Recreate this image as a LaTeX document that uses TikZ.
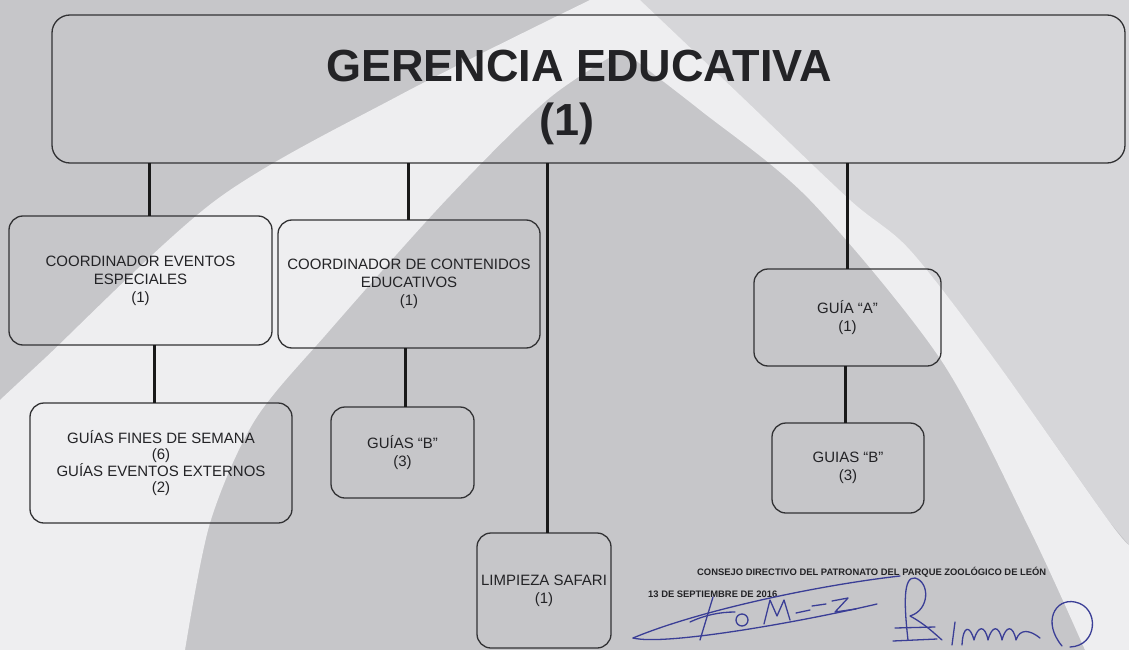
\documentclass[tikz,border=0pt]{standalone}
\usepackage{fontspec}
\setmainfont{Liberation Sans}
\definecolor{bggrey}{RGB}{198,198,201}
\definecolor{bglight}{RGB}{214,214,217}
\definecolor{bgwhite}{RGB}{238,238,240}
\definecolor{boxline}{RGB}{50,50,52}
\definecolor{txt}{RGB}{35,35,38}
\definecolor{sigblue}{RGB}{58,62,150}
\begin{document}
\begin{tikzpicture}[x=1pt,y=-1pt,
  box/.style={draw=boxline, line width=1.3pt, rounded corners=14pt, inner sep=0pt, outer sep=0pt,
              align=center, text=txt, font=\fontsize{15}{18}\selectfont},
  titletext/.style={align=center, text=txt, font=\fontsize{45}{54}\selectfont\bfseries, inner sep=0pt},
  conn/.style={draw=black!90, line width=3pt},
  smalltext/.style={text=txt, font=\fontsize{9.4}{11}\selectfont\bfseries, inner sep=0pt},
  sig/.style={draw=sigblue, line width=1.3pt, line cap=round, line join=round}]
% background paper
\fill[bggrey] (0,0) rectangle (1129,650);
\useasboundingbox (0,0) rectangle (1129,650);
\fill[bglight] (640,0) -- (1129,0) -- (1129,545)
   -- plot[smooth] coordinates {(1108,520) (995,360) (910,250) (850,200) (740,95) (640,0)} -- cycle;
\fill[bgwhite] plot[smooth] coordinates {(590,0) (400,95) (216,200) (43,360) (0,400)}
   -- (0,650) -- (185,650)
   -- plot[smooth] coordinates {(185,650) (210,523) (255,420) (330,330) (446,200) (547,100) (622,50)}
   -- plot[smooth] coordinates {(622,50) (700,110) (810,200) (941,360) (1030,530) (1085,650)}
   -- (1129,650) -- (1129,545)
   -- plot[smooth] coordinates {(1129,545) (1108,520) (995,360) (910,250) (850,200) (740,95) (640,0)}
   -- cycle;

% boxes
\node[box, rounded corners=18pt, minimum width=1073pt, minimum height=148pt] (top) at (588.5,89) {};
\node[titletext] (toptxt) at (579,97) {GERENCIA EDUCATIVA\\(1)\kern24pt};
\node[box, minimum width=263pt, minimum height=129pt] (cee) at (140.5,280.5)
  {COORDINADOR EVENTOS\\ESPECIALES\\(1)};
\node[box, minimum width=262pt, minimum height=128pt] (cce) at (409,284)
  {COORDINADOR DE CONTENIDOS\\EDUCATIVOS\\(1)};
\node[box, minimum width=187pt, minimum height=97pt] (guiaA) at (847.5,317.5)
  {GUÍA “A”\\(1)};
\node[box, font=\fontsize{15}{15.5}\selectfont, minimum width=262pt, minimum height=120pt] (gfs) at (161,463)
  {GUÍAS FINES DE SEMANA\\(6)\\GUÍAS EVENTOS EXTERNOS\\(2)};
\node[box, minimum width=143pt, minimum height=91pt] (gb) at (402.5,452.5)
  {GUÍAS “B”\\(3)};
\node[box, minimum width=152pt, minimum height=90pt] (gb2) at (848,468)
  {GUIAS “B”\\(3)};
\node[box, minimum width=134pt, minimum height=115pt] (limp) at (544,590.5)
  {LIMPIEZA SAFARI\\(1)};

% connectors
\draw[conn] ([xshift=8.5]cee.north |- top.south) -- ([xshift=8.5]cee.north);
\draw[conn] ([xshift=-1]cce.north |- top.south) -- ([xshift=-1]cce.north);
\draw[conn] ([xshift=3]limp.north |- top.south) -- ([xshift=3]limp.north);
\draw[conn] (guiaA.north |- top.south) -- (guiaA.north);
\draw[conn] ([xshift=-7]gfs.north |- cee.south) -- ([xshift=-7]gfs.north);
\draw[conn] ([xshift=2.5]gb.north |- cce.south) -- ([xshift=2.5]gb.north);
\draw[conn] ([xshift=-2.5]gb2.north |- guiaA.south) -- ([xshift=-2.5]gb2.north);

% footer texts
\node[smalltext, anchor=base west] (consejo) at (697,575)
  {CONSEJO DIRECTIVO DEL PATRONATO DEL PARQUE ZOOLÓGICO DE LEÓN};
\node[smalltext, anchor=base west] (fecha) at (648,597)
  {13 DE SEPTIEMBRE DE 2016};

% signatures
\draw[sig] (633,638) .. controls (700,610) and (820,585) .. (900,576);
\draw[sig] (633,638) .. controls (665,646) and (800,622) .. (877,604);
\draw[sig] (700,640) -- (713,597);
\draw[sig] (690,622) .. controls (705,615) and (720,612) .. (735,612);
\draw[sig] (742,620) circle[radius=6];
\draw[sig] (764,624) -- (770,600) -- (777,616) -- (784,600) -- (790,620);
\draw[sig] (796,613) -- (810,610);
\draw[sig] (812,606) -- (826,604);
\draw[sig] (832,601) -- (848,598) -- (835,612) -- (856,609);
\draw[sig] (908,640) .. controls (904,605) and (903,576) .. (915,578)
   .. controls (930,582) and (930,610) .. (910,616)
   .. controls (925,624) and (935,634) .. (942,640);
\draw[sig] (895,628) -- (935,627);
\draw[sig] (893,641) -- (937,639);
\draw[sig] (952,645) -- (955,622);
\draw[sig] (962,645) .. controls (963,625) and (970,625) .. (974,640)
   .. controls (978,625) and (985,625) .. (988,640)
   .. controls (992,625) and (999,625) .. (1002,640)
   .. controls (1006,625) and (1013,625) .. (1016,640)
   .. controls (1020,628) and (1030,630) .. (1040,638);
\draw[sig] (1062,646) .. controls (1042,622) and (1055,598) .. (1075,602)
   .. controls (1100,607) and (1098,646) .. (1070,647);
\end{tikzpicture}
\end{document}
